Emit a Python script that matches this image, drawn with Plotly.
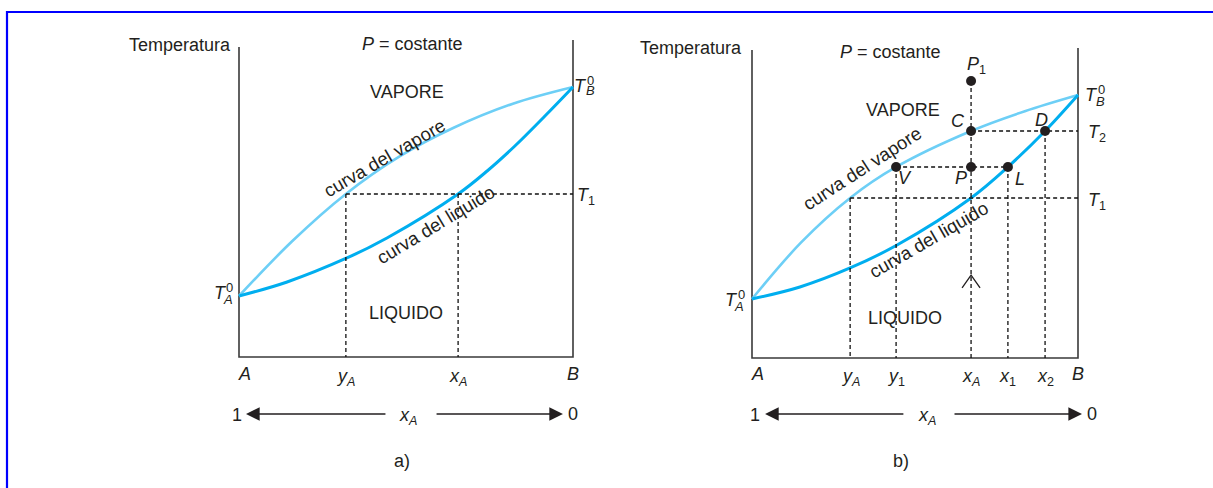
import plotly.graph_objects as go

# ---------------- data ----------------
# panel a)  composition: 0 = pure A, 1 = pure B ; temperature in arbitrary units
a_vap_x = [0.0, 0.159, 0.320, 0.482, 0.641, 0.820, 1.0]
a_vap_T = [19.06, 36.16, 50.94, 62.75, 71.56, 79.16, 84.38]
a_liq_x = [0.0, 0.144, 0.323, 0.443, 0.656, 0.743, 0.826, 0.916, 1.0]
a_liq_T = [19.06, 23.44, 30.94, 37.19, 50.94, 58.13, 65.94, 75.31, 84.38]
a_TA0, a_TB0, a_T1 = 19.06, 84.38, 50.94
a_yA, a_xA = 0.320, 0.656
a_axis_top = [96.9, 99.1]          # left, right axis heights

# panel b)
b_vap_x = [0.0, 0.150, 0.301, 0.442, 0.672, 0.837, 1.0]
b_vap_T = [18.44, 36.03, 50.0, 59.69, 70.94, 77.13, 82.19]
b_liq_x = [0.0, 0.147, 0.301, 0.445, 0.672, 0.785, 0.899, 1.0]
b_liq_T = [18.44, 22.19, 28.13, 35.31, 50.0, 59.69, 70.94, 82.19]
b_TA0, b_TB0 = 18.44, 82.19
b_T1, b_TP, b_T2, b_TP1 = 50.0, 59.69, 70.94, 86.56
b_yA, b_y1, b_xA, b_x1, b_x2 = 0.301, 0.442, 0.672, 0.785, 0.899
b_axis_top = [96.25, 96.9]
b_chevron_T = [21.9, 25.9]          # arm base, tip
b_chevron_dx = 0.0276

a_ticks = [(0.0, "<i>A</i>"), (a_yA, "<i>y<sub>A</sub></i>"),
           (a_xA, "<i>x<sub>A</sub></i>"), (1.0, "<i>B</i>")]
b_ticks = [(0.0, "<i>A</i>"), (b_yA, "<i>y<sub>A</sub></i>"), (b_y1, "<i>y</i><sub>1</sub>"),
           (b_xA, "<i>x<sub>A</sub></i>"), (b_x1, "<i>x</i><sub>1</sub>"),
           (b_x2, "<i>x</i><sub>2</sub>"), (1.0, "<i>B</i>")]

# ---------------- layout geometry ----------------
W, H = 1213, 488
PXT = 3.2   # pixels per temperature unit
panels = {
    "a": dict(x0=239, x1=573, y0=357, dom=(200, 620)),
    "b": dict(x0=752, x1=1078, y0=358, dom=(690, 1140)),
}

INK = "#231f20"
AXC = "#3a3a3a"
VAP = "#6dcff6"
LIQ = "#00aeef"
FONT = "Liberation Sans, Arial, sans-serif"
FS = 18

fig = go.Figure()

def xr(p):
    g = panels[p]
    s = g["x1"] - g["x0"]
    return [(g["dom"][0] - g["x0"]) / s, (g["dom"][1] - g["x0"]) / s]

def yr(p):
    g = panels[p]
    return [(g["y0"] - H) / PXT, (g["y0"] - 30) / PXT]

AX = {"a": ("x", "y"), "b": ("x2", "y2")}

def line(p, xs, ys, color=INK, width=1.2, dash=None, shape="linear"):
    xa, ya = AX[p]
    fig.add_trace(go.Scatter(x=xs, y=ys, mode="lines", xaxis=xa, yaxis=ya,
                             line=dict(color=color, width=width, dash=dash, shape=shape,
                                       smoothing=1.0),
                             hoverinfo="skip", showlegend=False))

ann = []
def txt(p, x, y, text, size=FS, xs=0, ys=0, xanchor="center", yanchor="middle", angle=0):
    xa, ya = AX[p]
    ann.append(dict(x=x, y=y, xref=xa, yref=ya, text=text, showarrow=False,
                    xshift=xs, yshift=ys, xanchor=xanchor, yanchor=yanchor,
                    textangle=angle, font=dict(family=FONT, size=size, color=INK)))

def arrow(p, tip, tail, yv):
    xa, ya = AX[p]
    ann.append(dict(x=tip, y=yv, ax=tail, ay=yv, xref=xa, yref=ya, axref=xa, ayref=ya,
                    text="", showarrow=True, arrowhead=2, arrowsize=2.1, arrowwidth=1.3,
                    arrowcolor=INK, standoff=0))

DASH = "4px,3px"
DW = 1.3
DC = "#111111"

# ================= panel a =================
line("a", [0, 0, 1, 1], [a_axis_top[0], 0, 0, a_axis_top[1]], color=AXC, width=1.6)
line("a", a_vap_x, a_vap_T, color=VAP, width=2.6, shape="spline")
line("a", a_liq_x, a_liq_T, color=LIQ, width=3.0, shape="spline")
line("a", [a_yA, 1, None, a_yA, a_yA, None, a_xA, a_xA],
     [a_T1, a_T1, None, a_T1, 0, None, a_T1, 0], dash=DASH, width=DW, color=DC)

txt("a", 0, 97.5, "Temperatura", xs=-6, xanchor="right")
txt("a", 0.518, 97.8, "<i>P</i> = costante")
txt("a", 0.503, 82.8, "VAPORE")
txt("a", 0.50, 13.75, "LIQUIDO")
txt("a", 0.452, 59.5, "curva del vapore", size=18.5, angle=-30, xs=-5, ys=9)
txt("a", 0.590, 41.3, "curva del liquido", size=18.5, angle=-31)
# T_A^0
txt("a", 0, a_TA0, "<i>T</i>", xs=-18.5, ys=3)
txt("a", 0, a_TA0, "0", size=13, xs=-9.5, ys=9)
txt("a", 0, a_TA0, "<i>A</i>", size=13, xs=-11.5, ys=-3)
# T_B^0
txt("a", 1, a_TB0, "<i>T</i>", xs=7.5, ys=1)
txt("a", 1, a_TB0, "0", size=13, xs=17.5, ys=6)
txt("a", 1, a_TB0, "<i>B</i>", size=13, xs=17.5, ys=-4)
txt("a", 1, a_T1, "<i>T</i><sub>1</sub>", xs=2, ys=-3, xanchor="left")
for xv, lab in a_ticks:
    txt("a", xv, 0, lab, xs=5 if xv == 0 else 0, ys=-17 if "sub" not in lab else -20)
row_a = -57 / PXT
txt("a", -0.006, 0, "1", ys=-58)
txt("a", 0.506, 0, "<i>x<sub>A</sub></i>", ys=-59)
txt("a", 1.0, 0, "0", ys=-57)
arrow("a", 0.021, 0.443, row_a)
arrow("a", 0.970, 0.587, row_a)
txt("a", 0.488, 0, "a)", ys=-104)

# ================= panel b =================
line("b", [0, 0, 1, 1], [b_axis_top[0], 0, 0, b_axis_top[1]], color=AXC, width=1.6)
line("b", b_vap_x, b_vap_T, color=VAP, width=2.6, shape="spline")
line("b", b_liq_x, b_liq_T, color=LIQ, width=3.0, shape="spline")
line("b",
     [b_yA, 1, None, b_y1, b_x1, None, b_xA, 1, None,
      b_yA, b_yA, None, b_y1, b_y1, None, b_xA, b_xA, None, b_x1, b_x1, None, b_x2, b_x2],
     [b_T1, b_T1, None, b_TP, b_TP, None, b_T2, b_T2, None,
      b_T1, 0, None, b_TP, 0, None, b_TP1, 0, None, b_TP, 0, None, b_T2, 0],
     dash=DASH, width=DW, color=DC)
line("b", [b_xA - b_chevron_dx, b_xA, b_xA + b_chevron_dx],
     [b_chevron_T[0], b_chevron_T[1], b_chevron_T[0]], width=1.3)

pts_x = [b_xA, b_xA, b_xA, b_y1, b_x1, b_x2]
pts_T = [b_TP1, b_T2, b_TP, b_TP, b_TP, b_T2]
fig.add_trace(go.Scatter(x=pts_x, y=pts_T, mode="markers", xaxis="x2", yaxis="y2",
                         marker=dict(color=INK, size=10), hoverinfo="skip",
                         showlegend=False, cliponaxis=False))

txt("b", 0, 96.9, "Temperatura", xs=-8, xanchor="right")
txt("b", 0.426, 95.6, "<i>P</i> = costante")
txt("b", 0.463, 77.5, "VAPORE")
txt("b", 0.469, 12.5, "LIQUIDO")
txt("b", 0.35, 56.9, "curva del vapore", size=18.5, angle=-33, xs=-4, ys=7)
txt("b", 0.543, 36.9, "curva del liquido", size=18.5, angle=-30)
txt("b", b_xA, b_TP1, "<i>P</i><sub>1</sub>", xs=5, ys=16)
txt("b", b_xA, b_T2, "<i>C</i>", xs=-13, ys=10)
txt("b", b_x2, b_T2, "<i>D</i>", xs=-4, ys=11)
txt("b", b_y1, b_TP, "<i>V</i>", xs=9, ys=-11)
txt("b", b_xA, b_TP, "<i>P</i>", xs=-10, ys=-11)
txt("b", b_x1, b_TP, "<i>L</i>", xs=12, ys=-12)
txt("b", 0, b_TA0, "<i>T</i>", xs=-20.5, ys=-1)
txt("b", 0, b_TA0, "0", size=13, xs=-11, ys=4)
txt("b", 0, b_TA0, "<i>A</i>", size=13, xs=-13, ys=-8)
txt("b", 1, b_TB0, "<i>T</i>", xs=13, ys=0)
txt("b", 1, b_TB0, "0", size=13, xs=23, ys=5)
txt("b", 1, b_TB0, "<i>B</i>", size=13, xs=22, ys=-7)
txt("b", 1, b_T2, "<i>T</i><sub>2</sub>", xs=8, ys=-3, xanchor="left")
txt("b", 1, b_T1, "<i>T</i><sub>1</sub>", xs=8, ys=-3, xanchor="left")
for xv, lab in b_ticks:
    txt("b", xv, 0, lab, xs=5 if xv == 0 else 0, ys=-16 if "sub" not in lab else -19)
row_b = -56 / PXT
txt("b", 0.009, 0, "1", ys=-57)
txt("b", 0.537, 0, "<i>x<sub>A</sub></i>", ys=-58)
txt("b", 1.043, 0, "0", ys=-56)
arrow("b", 0.040, 0.469, row_b)
arrow("b", 1.0123, 0.6166, row_b)
txt("b", 0.457, 0, "b)", ys=-103)

# frame (blue border, top and left)
shapes = [
    dict(type="line", xref="paper", yref="paper", x0=7 / W, x1=1.01, y0=1 - 12 / H, y1=1 - 12 / H,
         line=dict(color="#0000ff", width=2.2)),
    dict(type="line", xref="paper", yref="paper", x0=7 / W, x1=7 / W, y0=1 - 11 / H, y1=-0.01,
         line=dict(color="#0000ff", width=2.2)),
]

def ax_common():
    return dict(visible=False, fixedrange=True, showgrid=False, zeroline=False)

fig.update_layout(
    width=W, height=H, autosize=False,
    margin=dict(l=0, r=0, t=0, b=0),
    paper_bgcolor="white", plot_bgcolor="white",
    xaxis=dict(domain=[panels["a"]["dom"][0] / W, panels["a"]["dom"][1] / W], range=xr("a"), **ax_common()),
    yaxis=dict(domain=[0, 1 - 30 / H], range=yr("a"), **ax_common()),
    xaxis2=dict(domain=[panels["b"]["dom"][0] / W, panels["b"]["dom"][1] / W], range=xr("b"), **ax_common()),
    yaxis2=dict(domain=[0, 1 - 30 / H], range=yr("b"), **ax_common()),
    annotations=ann, shapes=shapes, showlegend=False,
    font=dict(family=FONT, color=INK),
)

fig.write_html("out.html", config=dict(displayModeBar=False),
               post_script="document.body.style.margin='0px';document.body.style.overflow='hidden';")
